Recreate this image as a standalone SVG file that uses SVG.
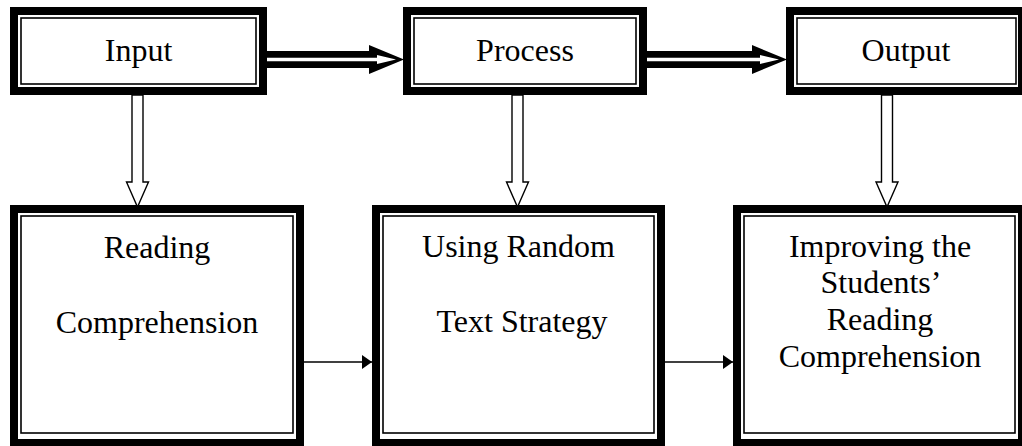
<svg xmlns="http://www.w3.org/2000/svg" width="1022" height="446" viewBox="0 0 1022 446">
<style>
.outer{fill:#fff;stroke:#000;stroke-width:8}
.inner{fill:none;stroke:#000;stroke-width:1.6}
.lbl{font-family:"Liberation Serif","Times New Roman",serif;font-size:32px;fill:#000;text-anchor:middle}
.down{fill:#fff;stroke:#000;stroke-width:1.4;stroke-linejoin:miter}
.thin{stroke:#000;stroke-width:1.4;fill:none}
</style>
<defs>
<marker id="tri" markerWidth="10" markerHeight="14" refX="10" refY="7" orient="auto" markerUnits="userSpaceOnUse">
<path d="M0,0 L10,7 L0,14 Z" fill="#000"/>
</marker>
</defs>
<rect width="1022" height="446" fill="#fff"/>
<g id="input">
<rect class="outer" x="14" y="11" width="249" height="80"/>
<rect class="inner" x="21" y="18" width="235" height="66"/>
<text class="lbl" x="138.5" y="61">Input</text>
</g>
<g id="process">
<rect class="outer" x="407" y="11" width="236" height="80"/>
<rect class="inner" x="414" y="18" width="222" height="66"/>
<text class="lbl" x="525" y="61">Process</text>
</g>
<g id="output">
<rect class="outer" x="790" y="11" width="232" height="80"/>
<rect class="inner" x="797" y="18" width="219" height="66"/>
<text class="lbl" x="906" y="61">Output</text>
</g>
<g id="reading-comprehension">
<rect class="outer" x="14" y="209" width="286" height="234"/>
<rect class="inner" x="21" y="216" width="272" height="217"/>
<text class="lbl" x="157" y="258">Reading</text>
<text class="lbl" x="157" y="333">Comprehension</text>
</g>
<g id="random-text-strategy">
<rect class="outer" x="376" y="209" width="285" height="234"/>
<rect class="inner" x="383" y="216" width="271" height="217"/>
<text class="lbl" x="518.5" y="257">Using Random</text>
<text class="lbl" x="522" y="332">Text Strategy</text>
</g>
<g id="improving">
<rect class="outer" x="737" y="209" width="285" height="234"/>
<rect class="inner" x="744" y="216" width="271" height="217"/>
<text class="lbl" x="880" y="257">Improving the</text>
<text class="lbl" x="881" y="293">Students’</text>
<text class="lbl" x="880" y="330">Reading</text>
<text class="lbl" x="880" y="367">Comprehension</text>
</g>
<g id="connectors">
<path d="M267,51 L369,51 L369,45 L404,59.5 L369,74 L369,68 L267,68 Z" fill="#000"/>
<path d="M267,57.8 L377,57.8 L377,55 L396,59.5 L377,64 L377,61.2 L267,61.2 Z" fill="#fff"/>
<path d="M647,51 L752,51 L752,45 L787,59.5 L752,74 L752,68 L647,68 Z" fill="#000"/>
<path d="M647,57.8 L760,57.8 L760,55 L779,59.5 L760,64 L760,61.2 L647,61.2 Z" fill="#fff"/>
<path class="down" d="M132,95 L143,95 L143,182 L148.5,182 L137.5,207 L126.5,182 L132,182 Z"/>
<path class="down" d="M512,95 L523,95 L523,182 L528.5,182 L517.5,207 L506.5,182 L512,182 Z"/>
<path class="down" d="M881.5,95 L892.5,95 L892.5,182 L898,182 L887,207 L876,182 L881.5,182 Z"/>
<line class="thin" x1="304" y1="362" x2="372" y2="362" marker-end="url(#tri)"/>
<line class="thin" x1="665" y1="362" x2="733" y2="362" marker-end="url(#tri)"/>
</g>
</svg>
